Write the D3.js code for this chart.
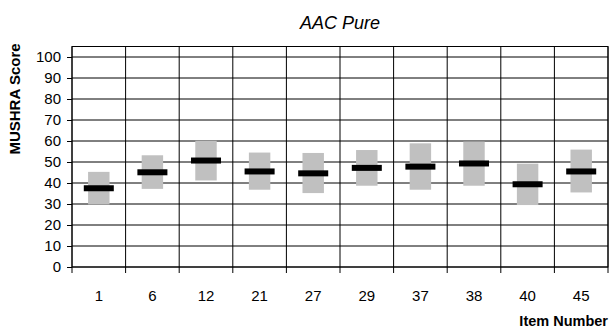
<!DOCTYPE html>
<html>
<head>
<meta charset="utf-8">
<script src="https://cdn.jsdelivr.net/npm/d3@7"></script>
<style>
  body { margin: 0; background: #fff; }
  svg { display: block; font-family: "Liberation Sans", Arial, sans-serif; }
</style>
</head>
<body>
<svg id="chart"></svg>
<script>
// Item numbers and MUSHRA scores (mean with confidence interval)
const items = ["1", "6", "12", "21", "27", "29", "37", "38", "40", "45"];
const means = [37.5, 45.1, 50.7, 45.5, 44.6, 47.2, 47.8, 49.3, 39.4, 45.5];
const upper = [45.3, 53.2, 60.1, 54.5, 54.3, 55.7, 58.9, 59.7, 49.2, 55.9];
const lower = [29.8, 37.2, 41.2, 36.8, 35.2, 38.7, 36.8, 38.7, 29.5, 35.5];
const yTicks = [0, 10, 20, 30, 40, 50, 60, 70, 80, 90, 100];

const width = 610, height = 332;
const plotLeft = 72, plotRight = 608, plotTop = 46.5, plotBottom = 267;

const svg = d3.select("#chart")
    .attr("width", width)
    .attr("height", height);

const x = d3.scaleBand()
    .domain(items)
    .range([plotLeft, plotRight])
    .padding(0);

const y = d3.scaleLinear()
    .domain([0, 105])
    .range([plotBottom, plotTop]);

// horizontal grid lines
svg.append("g")
    .selectAll("line")
    .data(yTicks)
    .enter()
    .append("line")
    .attr("x1", plotLeft)
    .attr("x2", plotRight)
    .attr("y1", d => y(d))
    .attr("y2", d => y(d))
    .attr("stroke", "#000")
    .attr("stroke-width", 1);

// vertical grid lines (category boundaries), extending below as ticks
const bounds = items.map(d => x(d)).concat([plotRight]);
svg.append("g")
    .selectAll("line")
    .data(bounds)
    .enter()
    .append("line")
    .attr("x1", d => d)
    .attr("x2", d => d)
    .attr("y1", plotTop)
    .attr("y2", plotBottom + 6)
    .attr("stroke", "#000")
    .attr("stroke-width", 1);

// plot border
svg.append("rect")
    .attr("x", plotLeft)
    .attr("y", plotTop)
    .attr("width", plotRight - plotLeft)
    .attr("height", plotBottom - plotTop)
    .attr("fill", "none")
    .attr("stroke", "#000")
    .attr("stroke-width", 1);

// y axis ticks and labels
const yAxis = d3.axisLeft(y)
    .tickValues(yTicks)
    .tickSize(5)
    .tickPadding(6);
const yG = svg.append("g")
    .attr("transform", `translate(${plotLeft},0)`)
    .call(yAxis);
yG.select(".domain").remove();
yG.selectAll("text")
    .attr("font-size", 15)
    .attr("font-family", "Liberation Sans, Arial, sans-serif")
    .attr("fill", "#000");

// x labels
svg.append("g")
    .selectAll("text")
    .data(items)
    .enter()
    .append("text")
    .attr("x", d => x(d) + x.bandwidth() / 2)
    .attr("y", 301)
    .attr("text-anchor", "middle")
    .attr("font-size", 15)
    .text(d => d);

// confidence interval boxes
const boxW = x.bandwidth() * 0.4;
svg.append("g")
    .selectAll("rect")
    .data(items)
    .enter()
    .append("rect")
    .attr("x", d => x(d) + (x.bandwidth() - boxW) / 2)
    .attr("y", (d, i) => y(upper[i]))
    .attr("width", boxW)
    .attr("height", (d, i) => y(lower[i]) - y(upper[i]))
    .attr("fill", "#c0c0c0");

// mean bars
const barW = x.bandwidth() * 0.56;
svg.append("g")
    .selectAll("rect")
    .data(items)
    .enter()
    .append("rect")
    .attr("x", d => x(d) + (x.bandwidth() - barW) / 2)
    .attr("y", (d, i) => y(means[i]) - 3)
    .attr("width", barW)
    .attr("height", 6)
    .attr("fill", "#000");

// title
svg.append("text")
    .attr("x", (plotLeft + plotRight) / 2)
    .attr("y", 29)
    .attr("text-anchor", "middle")
    .attr("font-size", 18)
    .attr("font-style", "italic")
    .text("AAC Pure");

// axis titles
svg.append("text")
    .attr("x", 608)
    .attr("y", 326)
    .attr("text-anchor", "end")
    .attr("font-size", 14.5)
    .attr("font-weight", "bold")
    .text("Item Number");

svg.append("text")
    .attr("transform", "translate(20,99) rotate(-90)")
    .attr("text-anchor", "middle")
    .attr("font-size", 15)
    .attr("font-weight", "bold")
    .text("MUSHRA Score");
</script>
</body>
</html>
